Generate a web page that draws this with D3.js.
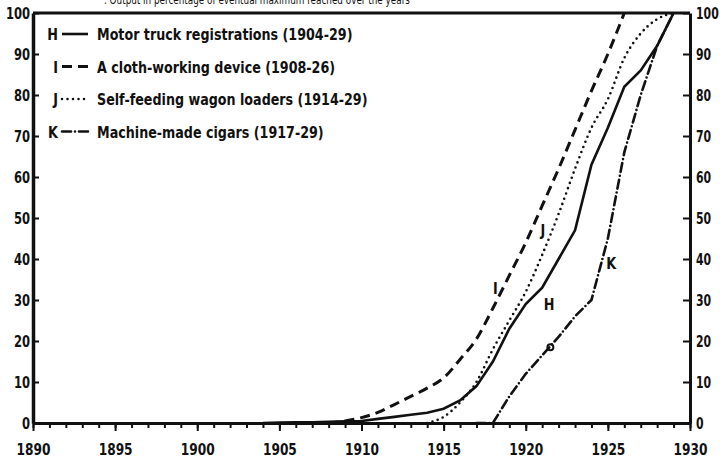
<!DOCTYPE html>
<html>
<head>
<meta charset="utf-8">
<script src="https://cdn.jsdelivr.net/npm/d3@7"></script>
<style>
  body { margin: 0; background: #fff; }
  svg { display: block; }
  text { font-family: "DejaVu Sans", sans-serif; font-weight: bold; fill: #111; }
  .axis path, .axis line { stroke: #111; }
</style>
</head>
<body>
<div id="chart"></div>
<script>
// percent of final level reached, by year
const truckYears = d3.range(1904, 1930);
const truckValues = [0, 0.1, 0.2, 0.2, 0.3, 0.4, 0.5, 1, 1.5, 2, 2.5, 3.5, 5.5, 9, 15, 23, 29, 33, 40, 47, 63, 72, 82, 86, 92, 100];

const clothYears = d3.range(1908, 1927);
const clothValues = [0, 0.5, 1.3, 2.6, 4.5, 6.5, 8.5, 11, 15.5, 20.5, 28, 36, 44, 53, 62, 71.5, 81, 90, 100];

const loaderYears = d3.range(1914, 1930);
const loaderValues = [0, 1.5, 5, 10, 18, 25, 32, 41, 51, 62, 72, 79, 89, 95, 98.5, 100];

const cigarYears = d3.range(1917, 1930);
const cigarValues = [0, 0, 6.5, 12, 16.5, 21, 26, 30, 45, 66, 80, 92, 100];

const legendKeys = ["H", "I", "J", "K"];
const legendLabels = [
  "Motor truck registrations (1904-29)",
  "A cloth-working device (1908-26)",
  "Self-feeding wagon loaders (1914-29)",
  "Machine-made cigars (1917-29)"
];
const xTicksMajor = [1890, 1895, 1900, 1905, 1910, 1915, 1920, 1925, 1930];
const yTicks = [0, 10, 20, 30, 40, 50, 60, 70, 80, 90, 100];

const width = 720, height = 459;
const plotLeft = 33, plotRight = 690, plotTop = 13, plotBottom = 423;

const svg = d3.select("#chart").append("svg")
    .attr("width", width)
    .attr("height", height);

const x = d3.scaleLinear().domain([1890, 1930]).range([plotLeft, plotRight]);
const y = d3.scaleLinear().domain([0, 100]).range([plotBottom, plotTop]);

// the old print uses a tall narrow face: squeeze glyphs sideways around their anchor
function squeeze(sel, k) {
    sel.each(function() {
        let t = d3.select(this);
        let tx = +t.attr("x") || 0;
        t.attr("transform", `translate(${tx * (1 - k)},0) scale(${k},1)`);
    });
}

// cut-off caption at the very top
svg.append("text")
    .attr("x", 104)
    .attr("y", 4)
    .style("font-size", "13px")
    .style("font-weight", "normal")
    .text(".   Output in percentage of eventual maximum reached over the years")
    .call(squeeze, 0.68);

// minor year ticks along the bottom
svg.append("g")
    .attr("class", "axis")
    .attr("transform", `translate(0,${plotBottom})`)
    .call(d3.axisBottom(x).tickValues(d3.range(1890, 1931)).tickSize(5).tickFormat(""))
    .call(g => g.select(".domain").remove())
    .selectAll("line").attr("stroke-width", 2);

let xAxis = svg.append("g")
    .attr("class", "axis")
    .attr("transform", `translate(0,${plotBottom})`)
    .call(d3.axisBottom(x).tickValues(xTicksMajor).tickSize(8).tickSizeOuter(0).tickPadding(12).tickFormat(d3.format("d")));
xAxis.select(".domain").attr("stroke-width", 3);
xAxis.selectAll("line").attr("stroke-width", 2);
xAxis.selectAll("text").style("font-size", "16.5px").attr("fill", "#111").call(squeeze, 0.74);

let yLeft = svg.append("g")
    .attr("class", "axis")
    .attr("transform", `translate(${plotLeft},0)`)
    .call(d3.axisLeft(y).tickValues(yTicks).tickSize(-6).tickSizeOuter(0).tickPadding(3));
yLeft.select(".domain").attr("stroke-width", 3.5);
yLeft.selectAll("line").attr("stroke-width", 2);
yLeft.selectAll("text").style("font-size", "16.5px").attr("fill", "#111").call(squeeze, 0.7);

let yRight = svg.append("g")
    .attr("class", "axis")
    .attr("transform", `translate(${plotRight},0)`)
    .call(d3.axisRight(y).tickValues(yTicks).tickSize(-7).tickSizeOuter(0).tickPadding(6));
yRight.select(".domain").attr("stroke-width", 3);
yRight.selectAll("line").attr("stroke-width", 2);
yRight.selectAll("text").style("font-size", "16.5px").attr("fill", "#111").call(squeeze, 0.66);

// top frame
svg.append("line")
    .attr("x1", plotLeft).attr("x2", plotRight)
    .attr("y1", y(100)).attr("y2", y(100))
    .attr("stroke", "#111")
    .attr("stroke-width", 3);

const series = [
  { years: truckYears, values: truckValues, dash: null, width: 2.6, cap: "butt", curve: d3.curveLinear },
  { years: clothYears, values: clothValues, dash: "10,6", width: 3, cap: "butt", curve: d3.curveMonotoneX },
  { years: loaderYears, values: loaderValues, dash: "0,5.5", width: 2.6, cap: "round", curve: d3.curveMonotoneX },
  { years: cigarYears, values: cigarValues, dash: "9,4,0,4", width: 2.6, cap: "round", curve: d3.curveLinear }
];

series.forEach(s => {
    let line = d3.line()
        .x(d => x(d[0]))
        .y(d => y(d[1]))
        .curve(s.curve);
    svg.append("path")
        .datum(s.years.map((yr, i) => [yr, s.values[i]]))
        .attr("fill", "none")
        .attr("stroke", "#111")
        .attr("stroke-width", s.width)
        .attr("stroke-linecap", s.cap)
        .attr("stroke-dasharray", s.dash)
        .attr("d", line);
});

// curve letters
const curveLabels = [
  { key: "H", year: 1921.1, value: 27.5 },
  { key: "I", year: 1918.0, value: 31.5 },
  { key: "J", year: 1920.9, value: 45.5 },
  { key: "K", year: 1924.9, value: 37.5 }
];
svg.selectAll(".curve-label")
    .data(curveLabels)
    .enter().append("text")
    .attr("class", "curve-label")
    .attr("x", d => x(d.year))
    .attr("y", d => y(d.value))
    .style("font-size", "16px")
    .text(d => d.key)
    .call(squeeze, 0.8);

// small ring on the cigar curve
svg.append("circle")
    .attr("cx", x(1921.5))
    .attr("cy", y(18.5))
    .attr("r", 3)
    .attr("fill", "none")
    .attr("stroke", "#111")
    .attr("stroke-width", 2);

// legend
const legend = svg.append("g");
legendKeys.forEach((k, i) => {
    let ly = 40 + i * 32.5;
    let row = legend.append("g").attr("transform", `translate(0,${ly})`);
    row.append("text")
        .attr("x", 58)
        .attr("y", 0)
        .attr("text-anchor", "end")
        .style("font-size", "16px")
        .text(k)
        .call(squeeze, 0.8);
    row.append("path")
        .attr("d", "M62,-6H88")
        .attr("fill", "none")
        .attr("stroke", "#111")
        .attr("stroke-width", series[i].width)
        .attr("stroke-linecap", series[i].cap)
        .attr("stroke-dasharray", series[i].dash);
    row.append("text")
        .attr("x", 97)
        .attr("y", 0)
        .style("font-size", "16.5px")
        .text(legendLabels[i])
        .call(squeeze, 0.77);
});
</script>
</body>
</html>
